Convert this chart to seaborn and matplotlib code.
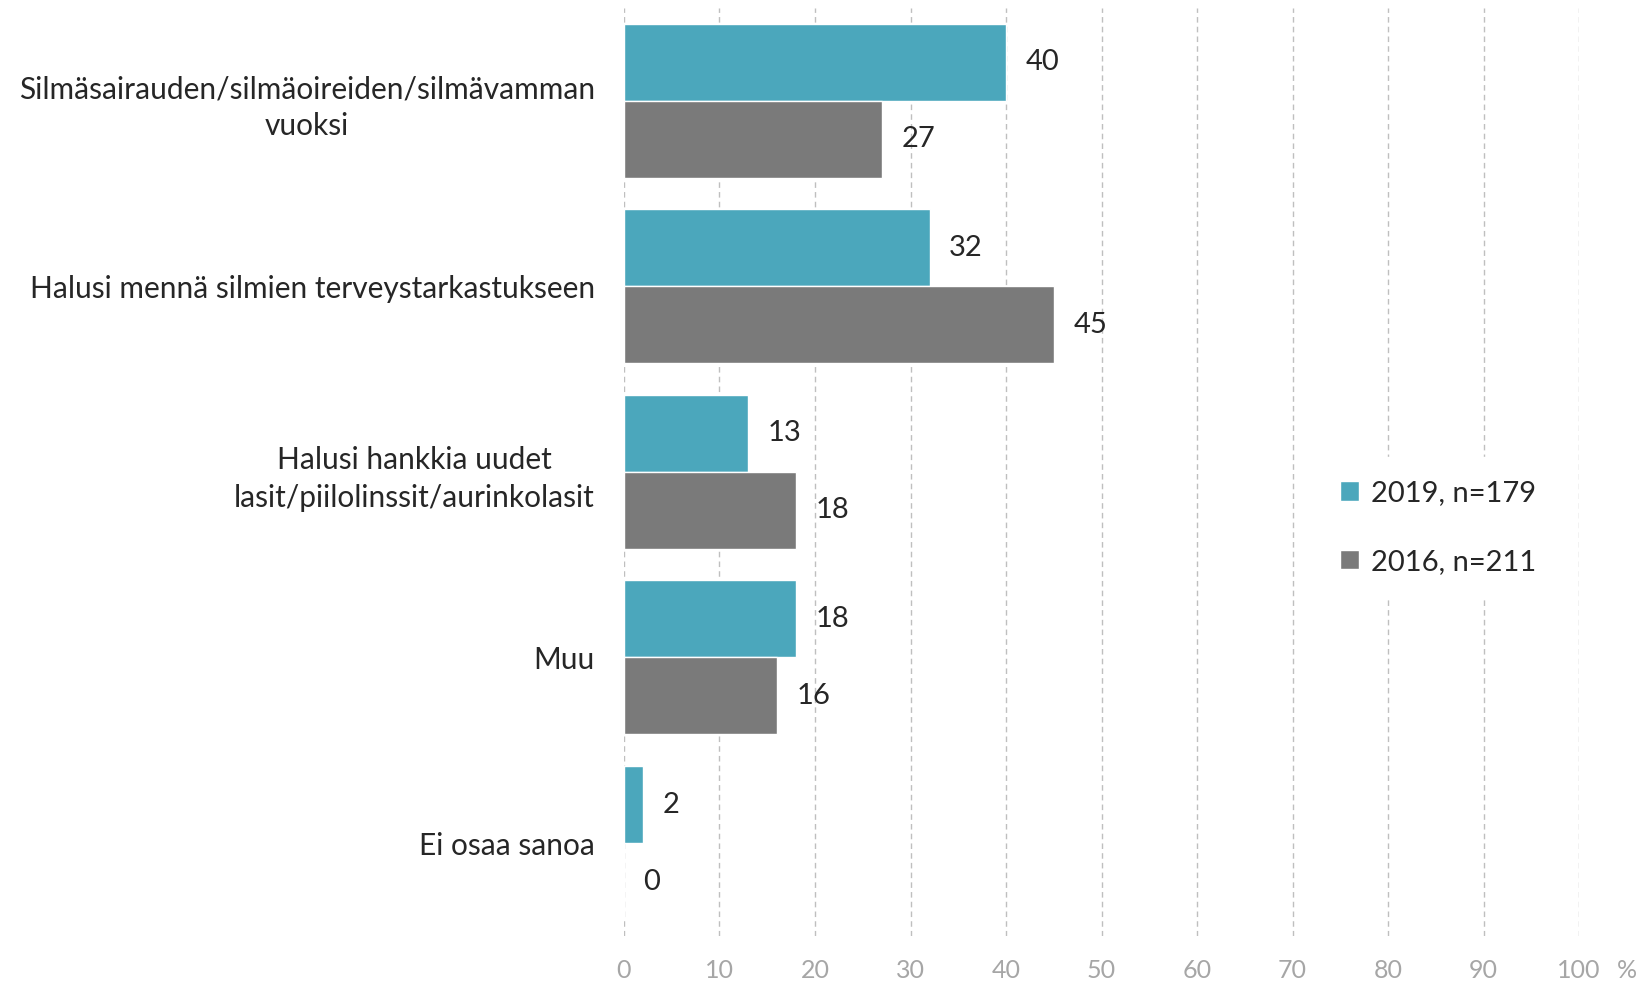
import pandas as pd
import seaborn as sns
import matplotlib.pyplot as plt

categories = [
    'Silmäsairauden/silmäoireiden/silmävamman\nvuoksi',
    'Halusi mennä silmien terveystarkastukseen',
    'Halusi hankkia uudet\nlasit/piilolinssit/aurinkolasit',
    'Muu',
    'Ei osaa sanoa',
]
series = ['2019, n=179', '2016, n=211']
values_2019 = [40, 32, 13, 18, 2]
values_2016 = [27, 45, 18, 16, 0]
x_ticks = [0, 10, 20, 30, 40, 50, 60, 70, 80, 90, 100]

colors = ['#4BA7BC', '#7A7A7A']

df = pd.DataFrame({
    'kategoria': categories * 2,
    'vuosi': [series[0]] * len(categories) + [series[1]] * len(categories),
    'arvo': values_2019 + values_2016,
})

sns.set_style('white')
plt.rcParams['font.family'] = ['Lato', 'DejaVu Sans']

fig = plt.figure(figsize=(16.42, 9.81), dpi=100)
ax = fig.add_axes([0.380, 0.046, 0.5817, 0.946])

sns.barplot(data=df, y='kategoria', x='arvo', hue='vuosi', orient='h',
            palette=colors, width=0.83, saturation=1, ax=ax, legend=True,
            errorbar=None)

for cont in ax.containers:
    ax.bar_label(cont, labels=[f'{v:.0f}' for v in cont.datavalues],
                 padding=14, fontsize=21, color='#262626')

ax.set_xlim(0, 100)
ax.set_xticks(x_ticks)
ax.set_xticklabels([str(t) for t in x_ticks], fontsize=18, color='#A6A6A6')
ax.tick_params(axis='x', length=0, pad=17)
ax.tick_params(axis='y', length=0, pad=21)
for lab in ax.get_yticklabels():
    lab.set_fontsize(21.5)
    lab.set_color('#262626')
    lab.set_multialignment('center')
    lab.set_linespacing(1.4)
ax.annotate('%', xy=(1.05, 0), xycoords='axes fraction', xytext=(0, -17),
            textcoords='offset points', fontsize=18, color='#A6A6A6',
            ha='center', va='top')

ax.set_xlabel('')
ax.set_ylabel('')
ax.set_axisbelow(True)
ax.grid(axis='x', color='#BFBFBF', linestyle=(0, (4, 3)), linewidth=1)
ax.grid(axis='y', visible=False)
sns.despine(ax=ax, left=True, bottom=True)

leg = ax.legend(loc='center left', bbox_to_anchor=(0.71, 0.44), frameon=True,
                facecolor='white', edgecolor='white', framealpha=1,
                fontsize=21, handlelength=0.65, handleheight=0.65,
                handletextpad=0.4, labelspacing=1.45, borderpad=0.8)
for t in leg.get_texts():
    t.set_color('#262626')

fig.savefig('out.png', dpi=100)
